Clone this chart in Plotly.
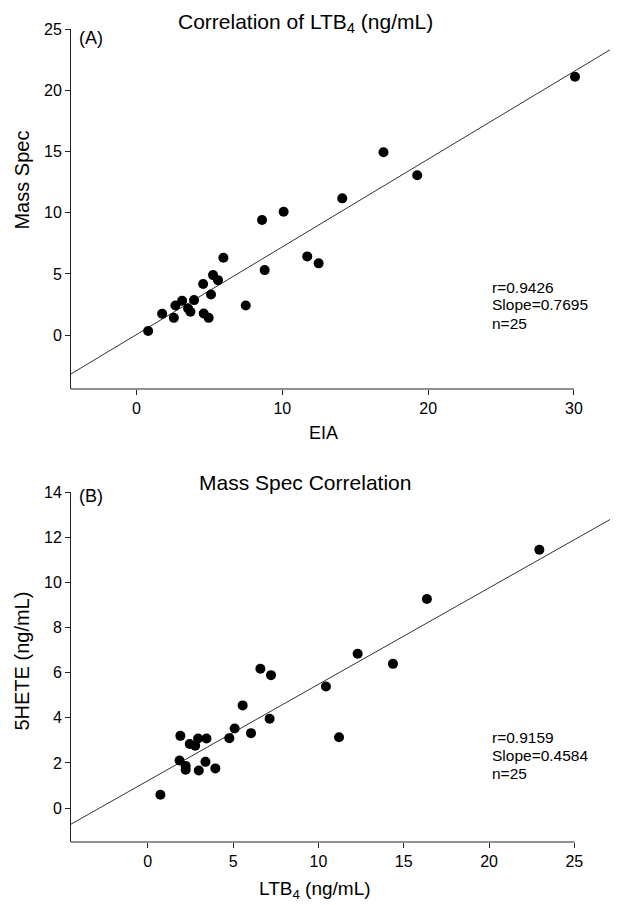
import plotly.graph_objects as go

# ---------------- data ----------------
eia = [0.80, 1.76, 2.56, 2.67, 3.13, 3.54, 3.70, 3.95, 4.61, 4.95,
       4.57, 5.11, 5.25, 5.59, 5.96, 7.49, 8.79, 11.71, 12.49, 8.61,
       10.09, 14.11, 16.94, 19.25, 30.07]
mass_spec = [0.33, 1.74, 1.41, 2.42, 2.80, 2.18, 1.91, 2.86, 1.77, 1.41,
             4.17, 3.32, 4.90, 4.49, 6.32, 2.42, 5.31, 6.43, 5.86, 9.40,
             10.08, 11.17, 14.93, 13.05, 21.10]

ltb4_ms = [0.74, 1.91, 2.46, 2.78, 2.95, 3.44, 1.86, 2.22, 2.22, 2.99,
           3.38, 3.96, 4.78, 5.09, 5.56, 6.05, 6.60, 7.22, 7.14, 10.44,
           11.21, 12.30, 14.37, 16.36, 22.95]
hete5 = [0.59, 3.20, 2.84, 2.76, 3.08, 3.08, 2.11, 1.87, 1.70, 1.67,
         2.05, 1.76, 3.10, 3.53, 4.55, 3.32, 6.17, 5.89, 3.96, 5.39,
         3.14, 6.84, 6.39, 9.26, 11.44]

fitA_x = [-4.49, 32.47]
fitA_y = [-3.17, 23.30]
fitB_x = [-4.50, 27.09]
fitB_y = [-0.71, 12.78]

statsA = ["r=0.9426", "Slope=0.7695", "n=25"]
statsB = ["r=0.9159", "Slope=0.4584", "n=25"]

ticksA_x = [0, 10, 20, 30]
ticksA_y = [0, 5, 10, 15, 20, 25]
ticksB_x = [0, 5, 10, 15, 20, 25]
ticksB_y = [0, 2, 4, 6, 8, 10, 12, 14]

# ---------------- figure ----------------
FONT = "Arial, Liberation Sans, sans-serif"
AX = "#222222"
OFF = 8  # page body margin

fig = go.Figure()
fig.add_trace(go.Scatter(x=fitA_x, y=fitA_y, mode="lines",
                         line=dict(color="#333333", width=1),
                         xaxis="x", yaxis="y", showlegend=False))
fig.add_trace(go.Scatter(x=eia, y=mass_spec, mode="markers",
                         marker=dict(color="black", size=10),
                         xaxis="x", yaxis="y", showlegend=False))
fig.add_trace(go.Scatter(x=fitB_x, y=fitB_y, mode="lines",
                         line=dict(color="#333333", width=1),
                         xaxis="x2", yaxis="y2", showlegend=False))
fig.add_trace(go.Scatter(x=ltb4_ms, y=hete5, mode="markers",
                         marker=dict(color="black", size=10),
                         xaxis="x2", yaxis="y2", showlegend=False))

W, H = 624 - OFF, 905 - OFF
ML, MR, MT, MB = 62.5, 14, 21, 63
PH = H - MT - MB
PW = W - ML - MR

def py(sy):
    return (H - MB - (sy - OFF)) / PH

def px(sx):
    return (sx - OFF - ML) / PW

axis_common = dict(showgrid=False, zeroline=False, ticks="outside", ticklen=5,
                   tickcolor=AX, tickwidth=1,
                   tickfont=dict(family=FONT, size=16, color="black"))

fig.update_layout(
    width=W, height=H,
    margin=dict(l=ML, r=MR, t=MT, b=MB, pad=0),
    paper_bgcolor="white", plot_bgcolor="white",
    font=dict(family=FONT, color="black"),
    xaxis=dict(domain=[0, 1], anchor="y", range=[fitA_x[0], fitA_x[1]],
               tickvals=ticksA_x, showline=False, **axis_common),
    yaxis=dict(domain=[py(389), 1], anchor="x", range=[-4.4, 25],
               tickvals=ticksA_y, showline=True, linecolor=AX, linewidth=1,
               **axis_common),
    xaxis2=dict(domain=[0, 1], anchor="y2", range=[fitB_x[0], fitB_x[1]],
                tickvals=ticksB_x, showline=False, **axis_common),
    yaxis2=dict(domain=[0, py(492)], anchor="x2", range=[-1.5, 14],
                tickvals=ticksB_y, showline=True, linecolor=AX, linewidth=1,
                **axis_common),
)

# bottom axis lines ending at the last tick
fig.add_shape(type="line", xref="x", yref="y domain", x0=fitA_x[0], x1=ticksA_x[-1],
              y0=0, y1=0, line=dict(color=AX, width=1))
fig.add_shape(type="line", xref="x2", yref="y2 domain", x0=fitB_x[0], x1=ticksB_x[-1],
              y0=0, y1=0, line=dict(color=AX, width=1))

def txt(text, sx, sy, size, anchor="center", angle=0):
    return dict(text=text, x=px(sx), y=py(sy), xref="paper", yref="paper",
                showarrow=False, xanchor=anchor, yanchor="middle", textangle=angle,
                font=dict(size=size, family=FONT, color="black"))

ann = [
    txt("Correlation of LTB<sub>4</sub> (ng/mL)", 305, 23, 21),
    txt("Mass Spec Correlation", 305, 482, 21),
    txt("(A)", 77, 38, 18, "left"),
    txt("(B)", 77, 496, 18, "left"),
    txt("Mass Spec", 21, 180, 20, angle=-90),
    txt("5HETE (ng/mL)", 21, 661, 20, angle=-90),
    txt("EIA", 323, 433, 18),
    txt("LTB<sub>4</sub> (ng/mL)", 315, 890, 19),
]
for i, s in enumerate(statsA):
    ann.append(txt(s, 490, 287 + 18 * i, 15.5, "left"))
for i, s in enumerate(statsB):
    ann.append(txt(s, 490, 737 + 18 * i, 15.5, "left"))
fig.update_layout(annotations=ann)

fig.write_html("out.html")
